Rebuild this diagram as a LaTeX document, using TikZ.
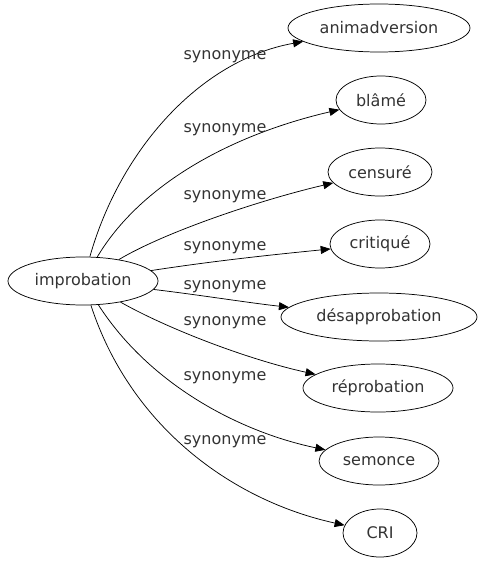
\documentclass[tikz,border=0pt]{standalone}
\usepackage{fontspec}
\setmainfont{DejaVu Sans}
\usetikzlibrary{arrows.meta,shapes.geometric}
\definecolor{txtgray}{HTML}{333333}

\begin{document}
\begin{tikzpicture}[x=0.75pt,y=-0.75pt,every node/.style={font=\fontsize{12}{14}\selectfont,text=txtgray},word/.style={draw,ellipse,inner sep=0pt,minimum height=36pt,line width=0.55pt},arr/.style={-{Triangle[length=7.5pt,width=6pt]},line width=0.55pt},lbl/.style={inner sep=1pt}]
\useasboundingbox (0,0) rectangle (479,563);
\node[word,minimum width=112.5pt] (imp) at (83,281) {improbation};
\node[word,minimum width=136.5pt] (anim) at (379,28) {animadversion};
\node[word,minimum width=67.5pt] (blame) at (381,100) {blâmé};
\node[word,minimum width=78pt] (cens) at (380,172) {censuré};
\node[word,minimum width=75pt] (crit) at (380,244) {critiqué};
\node[word,minimum width=147pt] (desap) at (379,317) {désapprobation};
\node[word,minimum width=112.5pt] (reprob) at (378,388) {réprobation};
\node[word,minimum width=90pt] (sem) at (379,461) {semonce};
\node[word,minimum width=55.5pt] (cri) at (380,533) {CRI};
% edges
\draw[arr] (imp) .. controls (120,150) and (200,60) .. (anim);
\draw[arr] (imp) .. controls (140,185) and (230,135) .. (blame);
\draw[arr] (imp) .. controls (165,232) and (260,200) .. (cens);
\draw[arr] (imp) .. controls (220,260) and (280,254) .. (crit);
\draw[arr] (imp) .. controls (200,295) and (250,303) .. (desap);
\draw[arr] (imp) .. controls (170,330) and (250,360) .. (reprob);
\draw[arr] (imp) .. controls (150,385) and (240,432) .. (sem);
\draw[arr] (imp) .. controls (130,425) and (230,500) .. (cri);
% labels
\node[lbl] (l1) at (225,57) {synonyme};
\node[lbl] (l2) at (225,130) {synonyme};
\node[lbl] (l3) at (225,197) {synonyme};
\node[lbl] (l4) at (225,248) {synonyme};
\node[lbl] (l5) at (225,287) {synonyme};
\node[lbl] (l6) at (225,323) {synonyme};
\node[lbl] (l7) at (225,378) {synonyme};
\node[lbl] (l8) at (225,442) {synonyme};
\end{tikzpicture}
\end{document}
